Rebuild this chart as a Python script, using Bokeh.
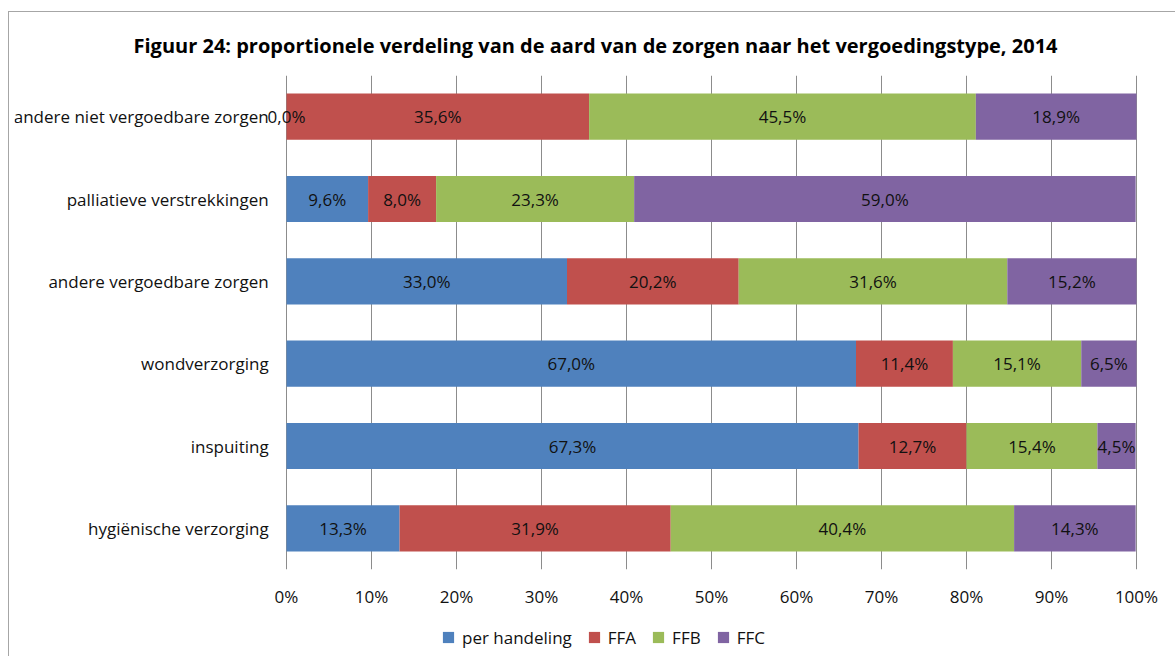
from bokeh.plotting import figure
from bokeh.layouts import column
from bokeh.models import (ColumnDataSource, FactorRange, Range1d, Legend, LegendItem,
                          FixedTicker, LabelSet)
from bokeh.core.properties import value
from bokeh.embed import file_html
from bokeh.resources import INLINE

title_text = "Figuur 24: proportionele verdeling van de aard van de zorgen naar het vergoedingstype, 2014"
categories = ["andere niet vergoedbare zorgen", "palliatieve verstrekkingen",
              "andere vergoedbare zorgen", "wondverzorging", "inspuiting",
              "hygiënische verzorging"]
series_names = ["per handeling", "FFA", "FFB", "FFC"]
per_handeling = [0.0, 9.6, 33.0, 67.0, 67.3, 13.3]
ffa = [35.6, 8.0, 20.2, 11.4, 12.7, 31.9]
ffb = [45.5, 23.3, 31.6, 15.1, 15.4, 40.4]
ffc = [18.9, 59.0, 15.2, 6.5, 4.5, 14.3]
x_ticks = [0, 10, 20, 30, 40, 50, 60, 70, 80, 90, 100]
x_tick_labels = ["0%", "10%", "20%", "30%", "40%", "50%", "60%", "70%", "80%", "90%", "100%"]
colors = ["#4F81BD", "#C0504D", "#9BBB59", "#8064A2"]

FONT = "Open Sans"
FS = "17px"
TXT = "#111111"

series = [per_handeling, ffa, ffb, ffc]
data = {"cat": categories}
for name, vals in zip(series_names, series):
    data[name] = vals
source = ColumnDataSource(data)

p = figure(width=1166, height=600, output_backend="svg", toolbar_location=None,
           x_range=Range1d(-32, 104),
           y_range=FactorRange(factors=list(reversed(categories)), range_padding=0),
           min_border_left=5, min_border_right=5, min_border_top=62, min_border_bottom=43)
p.outline_line_color = None

renderers = p.hbar_stack(series_names, y="cat", height=0.56, color=colors,
                         line_color=None, source=source)

# value labels inside bars
lx, ly, lt = [], [], []
for i, cat in enumerate(categories):
    left = 0.0
    for vals in series:
        v = vals[i]
        lx.append(left + v / 2)
        ly.append(cat)
        lt.append(f"{v:.1f}".replace(".", ",") + "%")
        left += v
lsrc = ColumnDataSource(dict(x=lx, y=ly, t=lt))
p.add_layout(LabelSet(x="x", y="y", text="t", source=lsrc, text_align="center",
                      text_baseline="middle", text_font=value(FONT), text_font_size=FS,
                      text_color=TXT))

# category labels
csrc = ColumnDataSource(dict(x=[-2.1] * len(categories), y=categories, t=categories))
p.add_layout(LabelSet(x="x", y="y", text="t", source=csrc, text_align="right",
                      text_baseline="middle", text_font=value(FONT), text_font_size=FS,
                      text_color=TXT))

# axes
p.yaxis.visible = False
p.xaxis.ticker = FixedTicker(ticks=x_ticks)
p.xaxis.major_label_overrides = {t: l for t, l in zip(x_ticks, x_tick_labels)}
p.xaxis.axis_line_color = None
p.xaxis.major_tick_line_color = None
p.xaxis.major_tick_out = 0
p.xaxis.major_tick_in = 0
p.xaxis.minor_tick_line_color = None
p.xaxis.minor_tick_out = 0
p.xaxis.major_label_standoff = 15
p.xaxis.major_label_text_font = FONT
p.xaxis.major_label_text_font_size = FS
p.xaxis.major_label_text_color = TXT

p.xgrid.ticker = FixedTicker(ticks=x_ticks)
p.xgrid.grid_line_color = "#8c8c8c"
p.ygrid.grid_line_color = None

# title
p.title.text = title_text
p.title.align = "left"
p.title.offset = 119
p.title.standoff = 34
p.title.text_font = FONT
p.title.text_font_size = "20px"
p.title.text_font_style = "bold"
p.title.text_color = "#000000"

# legend strip (separate figure so the legend is not clipped)
p2 = figure(width=1166, height=44, output_backend="svg", toolbar_location=None,
            x_range=Range1d(0, 1), y_range=Range1d(0, 1),
            x_axis_location=None, y_axis_location=None,
            min_border_left=0, min_border_right=0, min_border_top=0, min_border_bottom=0)
p2.outline_line_color = None
p2.xgrid.visible = False
p2.ygrid.visible = False
items = []
nan = float("nan")
for name, c in zip(series_names, colors):
    r = p2.scatter(x=[nan], y=[nan], marker="square", color=c, line_color=None)
    items.append(LegendItem(label=name, renderers=[r]))
legend = Legend(items=items, location=(420, 5), orientation="horizontal",
                padding=0, margin=0, glyph_width=28, glyph_height=28, label_height=20,
                label_standoff=-2, spacing=8, border_line_color=None,
                background_fill_alpha=0, label_text_font=FONT,
                label_text_font_size=FS, label_text_color=TXT)
p2.add_layout(legend)

layout = column(p, p2, spacing=0,
                styles={"margin-left": "8px", "margin-top": "11px",
                        "border-left": "1px solid #a6a6a6", "border-top": "1px solid #a6a6a6"})

open("out.html", "w").write(file_html(layout, INLINE))
